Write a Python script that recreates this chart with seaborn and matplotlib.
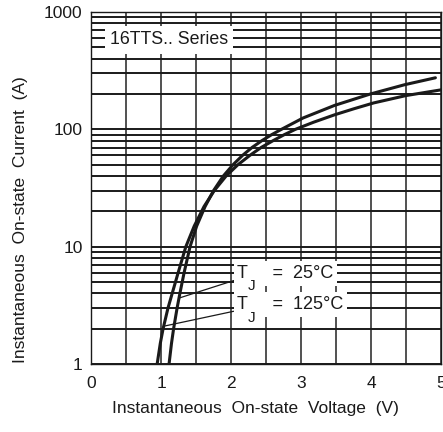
import matplotlib
matplotlib.use("Agg")
import matplotlib.pyplot as plt
from matplotlib.ticker import LogLocator, MultipleLocator, NullFormatter, FixedLocator
import numpy as np
import pandas as pd
import seaborn as sns

# Forward characteristic, Tj = 25 °C  (current in A, voltage in V)
i_25 = [1.0, 1.5, 2.0, 3.0, 4.0, 6.0, 10, 15, 22, 30, 40, 50,
        60, 70, 80, 90, 100, 125, 160, 200, 240, 275]
v_25 = [1.115, 1.15, 1.18, 1.23, 1.27, 1.33, 1.415, 1.51, 1.63, 1.75, 1.89, 2.03,
        2.165, 2.30, 2.44, 2.58, 2.72, 3.03, 3.48, 3.99, 4.48, 4.92]

# Forward characteristic, Tj = 125 °C
i_125 = [1.0, 1.5, 2.0, 3.0, 4.0, 6.0, 10, 15, 22, 30, 40, 50,
         60, 70, 80, 90, 100, 115, 133, 150, 168, 194, 217]
v_125 = [0.945, 0.99, 1.03, 1.10, 1.16, 1.245, 1.355, 1.475, 1.615, 1.76, 1.93, 2.10,
         2.27, 2.43, 2.60, 2.76, 2.92, 3.18, 3.48, 3.76, 4.04, 4.50, 5.00]

x_ticks = [0, 1, 2, 3, 4, 5]
y_ticks = [1, 10, 100, 1000]
y_tick_labels = ["1", "10", "100", "1000"]

series_title = "16TTS.. Series"
temp_labels = ["T     =  25°C", "T     =  125°C"]
temp_subscript = "J"

df = pd.concat([
    pd.DataFrame({"V": v_25, "I": i_25, "Tj": "25"}),
    pd.DataFrame({"V": v_125, "I": i_125, "Tj": "125"}),
])

sns.set_theme(style="white")
plt.rcParams["font.family"] = ["Liberation Sans", "DejaVu Sans"]

fig = plt.figure(figsize=(4.43, 4.32), dpi=100)
ax = fig.add_axes([91 / 443, 1 - 364 / 432, 350 / 443, 352 / 432])

ink = "#1a1a1a"
ax.set_yscale("log")

# Grid: every 0.5 V, and every 1..9 step per decade
ax.xaxis.set_major_locator(FixedLocator(x_ticks))
ax.xaxis.set_minor_locator(MultipleLocator(0.5))
ax.yaxis.set_major_locator(FixedLocator(y_ticks))
ax.yaxis.set_minor_locator(LogLocator(base=10, subs=np.arange(2, 10)))
ax.yaxis.set_minor_formatter(NullFormatter())
ax.grid(True, which="both", axis="y", color=ink, linewidth=1.4)
ax.grid(True, which="both", axis="x", color="#333333", linewidth=1.2)
ax.set_axisbelow(True)
for s in ax.spines.values():
    s.set_color(ink)
    s.set_linewidth(1.0)

sns.lineplot(data=df, x="V", y="I", hue="Tj", palette=[ink, ink],
             linewidth=2.2, legend=False, sort=False, ax=ax, zorder=3)
ax.set_xlim(0, 5)
ax.set_ylim(1, 1000)
ax.set_yticks(y_ticks)
ax.set_yticklabels(y_tick_labels)

ax.tick_params(axis="both", which="both", length=0, labelsize=12.5, colors=ink)
ax.tick_params(axis="x", pad=9)
ax.tick_params(axis="y", pad=6)

ax.set_xlabel("Instantaneous  On-state  Voltage  (V)", fontsize=12.5, color=ink)
ax.set_ylabel("Instantaneous  On-state  Current  (A)", fontsize=12.5, color=ink)
ax.xaxis.set_label_coords(0.47, -0.105)
ax.yaxis.set_label_coords(-0.18, 0.41)

ax.text(0.27, 578, series_title, fontsize=12.8, color=ink, va="center", ha="left", zorder=5,
        bbox=dict(facecolor="white", edgecolor="none", boxstyle="square,pad=0.3"))

# Temperature labels with leader lines to each curve
box = dict(facecolor="white", edgecolor="none", boxstyle="square,pad=0.2")
label_pos = [(2.09, 5.41), (2.09, 2.94)]
leader_to = [(1.26, 3.65), (1.04, 2.1)]
for text, (lx, ly), (px, py) in zip(temp_labels, label_pos, leader_to):
    ax.annotate(text, xy=(px, py), xytext=(lx, ly), fontsize=13, color=ink,
                va="baseline", ha="left", zorder=5, bbox=box,
                arrowprops=dict(arrowstyle="-", color=ink, lw=0.9, shrinkA=0, shrinkB=0,
                                relpos=(0.0, 0.15)))
    ax.annotate(temp_subscript, xy=(lx, ly), xytext=(7.4, -9.0), textcoords="offset points",
                fontsize=11, color=ink, va="baseline", ha="left", zorder=6)

fig.savefig("out.png", dpi=100)
